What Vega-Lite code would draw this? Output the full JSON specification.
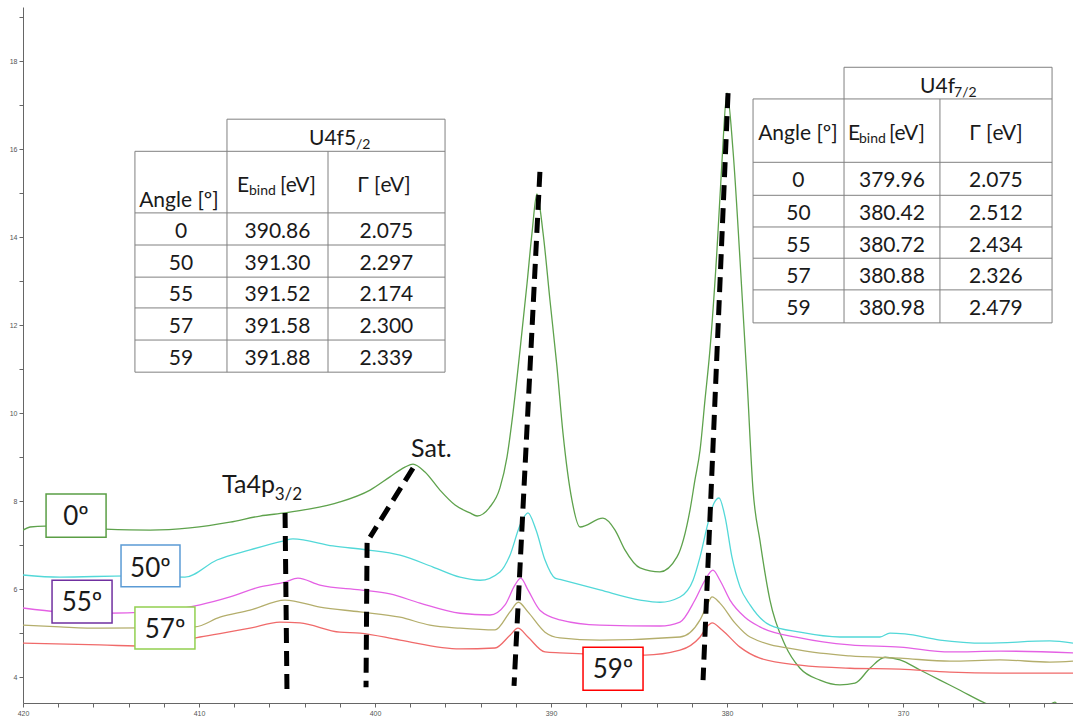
{
  "$schema": "https://vega.github.io/schema/vega-lite/v6.json",
  "width": 1050,
  "height": 696,
  "autosize": {"type": "none"},
  "padding": {"left": 23, "top": 7, "right": 0, "bottom": 16},
  "background": "white",
  "config": {
    "view": {"stroke": null},
    "axis": {"grid": false, "title": null, "labelFont": "Liberation Sans", "labelFontSize": 7, "labelColor": "#555", "domainColor": "#666", "tickColor": "#666", "tickSize": 4, "labelPadding": 2},
    "text": {"font": "Lato", "color": "#1a1a1a"}
  },
  "datasets": {
    "spec": [
      {"s":"0","e":420.00,"i":7.34},{"s":"0","e":419.60,"i":7.41},{"s":"0","e":418.75,"i":7.43},{"s":"0","e":415.34,"i":7.36},{"s":"0","e":412.78,"i":7.34},{"s":"0","e":410.51,"i":7.39},{"s":"0","e":408.24,"i":7.52},{"s":"0","e":406.53,"i":7.66},{"s":"0","e":405.11,"i":7.73},{"s":"0","e":403.69,"i":7.82},{"s":"0","e":401.99,"i":7.98},{"s":"0","e":400.28,"i":8.25},{"s":"0","e":399.15,"i":8.55},{"s":"0","e":398.30,"i":8.77},{"s":"0","e":397.84,"i":8.84},{"s":"0","e":397.16,"i":8.66},{"s":"0","e":396.31,"i":8.25},{"s":"0","e":395.45,"i":7.91},{"s":"0","e":394.60,"i":7.73},{"s":"0","e":394.20,"i":7.66},{"s":"0","e":393.50,"i":7.85},{"s":"0","e":392.90,"i":8.30},{"s":"0","e":392.50,"i":9.00},{"s":"0","e":392.16,"i":10.00},{"s":"0","e":391.76,"i":11.43},{"s":"0","e":391.36,"i":12.95},{"s":"0","e":391.08,"i":14.09},{"s":"0","e":390.80,"i":14.98},{"s":"0","e":390.45,"i":14.09},{"s":"0","e":390.06,"i":12.57},{"s":"0","e":389.66,"i":11.05},{"s":"0","e":389.32,"i":9.55},{"s":"0","e":388.81,"i":8.02},{"s":"0","e":388.35,"i":7.41},{"s":"0","e":387.05,"i":7.61},{"s":"0","e":386.36,"i":7.34},{"s":"0","e":385.80,"i":6.89},{"s":"0","e":384.94,"i":6.48},{"s":"0","e":383.81,"i":6.39},{"s":"0","e":382.84,"i":6.73},{"s":"0","e":382.10,"i":7.80},{"s":"0","e":381.82,"i":8.48},{"s":"0","e":381.53,"i":9.16},{"s":"0","e":381.25,"i":10.30},{"s":"0","e":380.97,"i":11.43},{"s":"0","e":380.57,"i":13.70},{"s":"0","e":380.28,"i":15.75},{"s":"0","e":380.00,"i":17.28},{"s":"0","e":379.66,"i":15.98},{"s":"0","e":379.26,"i":13.48},{"s":"0","e":378.86,"i":10.75},{"s":"0","e":378.52,"i":8.25},{"s":"0","e":378.13,"i":7.11},{"s":"0","e":377.56,"i":5.75},{"s":"0","e":376.70,"i":4.73},{"s":"0","e":375.85,"i":4.20},{"s":"0","e":374.72,"i":3.93},{"s":"0","e":373.58,"i":3.82},{"s":"0","e":372.73,"i":3.86},{"s":"0","e":371.88,"i":4.20},{"s":"0","e":371.02,"i":4.45},{"s":"0","e":370.17,"i":4.39},{"s":"0","e":369.03,"i":4.16},{"s":"0","e":367.90,"i":3.93},{"s":"0","e":366.76,"i":3.70},{"s":"0","e":365.34,"i":3.41},{"s":"0","e":363.92,"i":3.2},{"s":"0","e":362.22,"i":3.2},{"s":"0","e":361.36,"i":3.43},{"s":"0","e":360.97,"i":3.2},{"s":"0","e":360.34,"i":3.2},
      {"s":"50","e":420.00,"i":6.32},{"s":"50","e":417.90,"i":6.27},{"s":"50","e":414.00,"i":6.30},{"s":"50","e":410.80,"i":6.27},{"s":"50","e":408.98,"i":6.66},{"s":"50","e":407.10,"i":6.89},{"s":"50","e":405.23,"i":7.09},{"s":"50","e":404.66,"i":7.14},{"s":"50","e":402.39,"i":6.98},{"s":"50","e":400.45,"i":6.89},{"s":"50","e":398.58,"i":6.77},{"s":"50","e":396.70,"i":6.50},{"s":"50","e":395.17,"i":6.27},{"s":"50","e":394.03,"i":6.20},{"s":"50","e":392.90,"i":6.39},{"s":"50","e":392.33,"i":6.77},{"s":"50","e":391.76,"i":7.45},{"s":"50","e":391.31,"i":7.73},{"s":"50","e":390.85,"i":7.34},{"s":"50","e":390.34,"i":6.66},{"s":"50","e":389.77,"i":6.25},{"s":"50","e":389.49,"i":6.22},{"s":"50","e":387.22,"i":5.98},{"s":"50","e":384.94,"i":5.75},{"s":"50","e":383.81,"i":5.70},{"s":"50","e":382.67,"i":5.82},{"s":"50","e":381.93,"i":6.20},{"s":"50","e":381.53,"i":6.73},{"s":"50","e":381.08,"i":7.50},{"s":"50","e":380.74,"i":7.95},{"s":"50","e":380.45,"i":8.07},{"s":"50","e":380.11,"i":7.64},{"s":"50","e":379.72,"i":6.73},{"s":"50","e":379.26,"i":6.05},{"s":"50","e":378.69,"i":5.64},{"s":"50","e":377.56,"i":5.18},{"s":"50","e":375.85,"i":5.02},{"s":"50","e":373.58,"i":4.91},{"s":"50","e":371.31,"i":4.91},{"s":"50","e":370.74,"i":5.00},{"s":"50","e":369.89,"i":4.98},{"s":"50","e":367.90,"i":4.84},{"s":"50","e":365.34,"i":4.77},{"s":"50","e":361.65,"i":4.82},{"s":"50","e":360.34,"i":4.77},
      {"s":"55","e":420.00,"i":5.57},{"s":"55","e":417.90,"i":5.48},{"s":"55","e":415.34,"i":5.45},{"s":"55","e":412.78,"i":5.48},{"s":"55","e":409.94,"i":5.64},{"s":"55","e":408.24,"i":5.82},{"s":"55","e":406.53,"i":6.05},{"s":"55","e":405.11,"i":6.16},{"s":"55","e":404.38,"i":6.25},{"s":"55","e":403.13,"i":6.09},{"s":"55","e":400.85,"i":5.98},{"s":"55","e":399.15,"i":5.89},{"s":"55","e":397.44,"i":5.68},{"s":"55","e":395.17,"i":5.45},{"s":"55","e":393.47,"i":5.41},{"s":"55","e":392.61,"i":5.64},{"s":"55","e":392.05,"i":6.09},{"s":"55","e":391.72,"i":6.25},{"s":"55","e":391.31,"i":5.98},{"s":"55","e":390.63,"i":5.52},{"s":"55","e":389.49,"i":5.30},{"s":"55","e":387.22,"i":5.18},{"s":"55","e":383.81,"i":5.16},{"s":"55","e":382.67,"i":5.25},{"s":"55","e":381.82,"i":5.75},{"s":"55","e":381.25,"i":6.20},{"s":"55","e":380.80,"i":6.43},{"s":"55","e":380.40,"i":6.20},{"s":"55","e":379.83,"i":5.75},{"s":"55","e":378.98,"i":5.36},{"s":"55","e":378.13,"i":5.14},{"s":"55","e":375.85,"i":4.89},{"s":"55","e":373.01,"i":4.73},{"s":"55","e":370.17,"i":4.68},{"s":"55","e":367.33,"i":4.57},{"s":"55","e":364.49,"i":4.59},{"s":"55","e":360.34,"i":4.55},
      {"s":"57","e":420.00,"i":5.18},{"s":"57","e":417.90,"i":5.14},{"s":"57","e":415.63,"i":5.11},{"s":"57","e":410.23,"i":5.14},{"s":"57","e":408.81,"i":5.36},{"s":"57","e":407.10,"i":5.52},{"s":"57","e":405.11,"i":5.75},{"s":"57","e":403.13,"i":5.59},{"s":"57","e":400.85,"i":5.48},{"s":"57","e":398.58,"i":5.36},{"s":"57","e":396.88,"i":5.18},{"s":"57","e":395.17,"i":5.11},{"s":"57","e":393.18,"i":5.07},{"s":"57","e":392.33,"i":5.48},{"s":"57","e":391.85,"i":5.70},{"s":"57","e":391.31,"i":5.48},{"s":"57","e":390.34,"i":5.02},{"s":"57","e":389.49,"i":4.89},{"s":"57","e":387.22,"i":4.84},{"s":"57","e":382.67,"i":4.91},{"s":"57","e":381.53,"i":5.30},{"s":"57","e":381.08,"i":5.68},{"s":"57","e":380.85,"i":5.82},{"s":"57","e":380.40,"i":5.68},{"s":"57","e":379.55,"i":5.23},{"s":"57","e":378.69,"i":4.91},{"s":"57","e":375.85,"i":4.61},{"s":"57","e":373.01,"i":4.48},{"s":"57","e":370.17,"i":4.43},{"s":"57","e":367.33,"i":4.36},{"s":"57","e":364.49,"i":4.39},{"s":"57","e":361.65,"i":4.34},{"s":"57","e":360.34,"i":4.36},
      {"s":"59","e":420.00,"i":4.77},{"s":"59","e":415.63,"i":4.73},{"s":"59","e":412.78,"i":4.70},{"s":"59","e":409.94,"i":4.91},{"s":"59","e":407.10,"i":5.11},{"s":"59","e":405.40,"i":5.25},{"s":"59","e":404.26,"i":5.23},{"s":"59","e":401.99,"i":5.02},{"s":"59","e":400.85,"i":5.00},{"s":"59","e":398.58,"i":4.84},{"s":"59","e":395.17,"i":4.64},{"s":"59","e":393.18,"i":4.66},{"s":"59","e":392.33,"i":4.95},{"s":"59","e":391.88,"i":5.11},{"s":"59","e":391.31,"i":4.91},{"s":"59","e":390.34,"i":4.57},{"s":"59","e":389.49,"i":4.55},{"s":"59","e":384.66,"i":4.50},{"s":"59","e":382.67,"i":4.61},{"s":"59","e":381.53,"i":4.91},{"s":"59","e":381.05,"i":5.18},{"s":"59","e":380.85,"i":5.23},{"s":"59","e":380.28,"i":5.07},{"s":"59","e":379.26,"i":4.68},{"s":"59","e":378.13,"i":4.43},{"s":"59","e":375.85,"i":4.27},{"s":"59","e":373.01,"i":4.20},{"s":"59","e":370.17,"i":4.18},{"s":"59","e":367.33,"i":4.11},{"s":"59","e":364.49,"i":4.09},{"s":"59","e":360.34,"i":4.09}
    ],
    "dash": [
      {"g":"ta","e":405.11,"i":7.73},{"g":"ta","e":405.00,"i":3.64},
      {"g":"sat1","e":397.84,"i":8.75},{"g":"sat1","e":400.28,"i":7.18},
      {"g":"sat2","e":400.45,"i":7.05},{"g":"sat2","e":400.51,"i":3.77},
      {"g":"p390","e":390.63,"i":15.48},{"g":"p390","e":392.10,"i":3.80},
      {"g":"p380","e":379.94,"i":17.27},{"g":"p380","e":381.36,"i":3.93}
    ],
    "tlines": [
      {"e":408.41,"e2":396.02,"i":16.68,"i2":16.68},
      {"e":413.64,"e2":396.02,"i":15.95,"i2":15.95},
      {"e":413.64,"e2":396.02,"i":14.55,"i2":14.55},
      {"e":413.64,"e2":396.02,"i":13.82,"i2":13.82},
      {"e":413.64,"e2":396.02,"i":13.09,"i2":13.09},
      {"e":413.64,"e2":396.02,"i":12.39,"i2":12.39},
      {"e":413.64,"e2":396.02,"i":11.66,"i2":11.66},
      {"e":413.64,"e2":396.02,"i":10.93,"i2":10.93},
      {"e":413.64,"e2":413.64,"i":15.95,"i2":10.93},
      {"e":408.41,"e2":408.41,"i":16.68,"i2":10.93},
      {"e":402.67,"e2":402.67,"i":15.95,"i2":10.93},
      {"e":396.02,"e2":396.02,"i":16.68,"i2":10.93},
      {"e":373.35,"e2":361.53,"i":17.86,"i2":17.86},
      {"e":378.52,"e2":361.53,"i":17.14,"i2":17.14},
      {"e":378.52,"e2":361.53,"i":15.70,"i2":15.70},
      {"e":378.52,"e2":361.53,"i":14.95,"i2":14.95},
      {"e":378.52,"e2":361.53,"i":14.23,"i2":14.23},
      {"e":378.52,"e2":361.53,"i":13.52,"i2":13.52},
      {"e":378.52,"e2":361.53,"i":12.80,"i2":12.80},
      {"e":378.52,"e2":361.53,"i":12.05,"i2":12.05},
      {"e":378.52,"e2":378.52,"i":17.14,"i2":12.05},
      {"e":373.35,"e2":373.35,"i":17.86,"i2":12.05},
      {"e":367.90,"e2":367.90,"i":17.14,"i2":12.05},
      {"e":361.53,"e2":361.53,"i":17.86,"i2":12.05}
    ],
    "tx": [
      {"k":"c","t":"0","e":411.02,"i":13.98},{"k":"c","t":"390.86","e":405.54,"i":13.98},{"k":"c","t":"2.075","e":399.35,"i":13.98},
      {"k":"c","t":"50","e":411.02,"i":13.25},{"k":"c","t":"391.30","e":405.54,"i":13.25},{"k":"c","t":"2.297","e":399.35,"i":13.25},
      {"k":"c","t":"55","e":411.02,"i":12.55},{"k":"c","t":"391.52","e":405.54,"i":12.55},{"k":"c","t":"2.174","e":399.35,"i":12.55},
      {"k":"c","t":"57","e":411.02,"i":11.82},{"k":"c","t":"391.58","e":405.54,"i":11.82},{"k":"c","t":"2.300","e":399.35,"i":11.82},
      {"k":"c","t":"59","e":411.02,"i":11.09},{"k":"c","t":"391.88","e":405.54,"i":11.09},{"k":"c","t":"2.339","e":399.35,"i":11.09},
      {"k":"c","t":"0","e":375.94,"i":15.13},{"k":"c","t":"379.96","e":370.63,"i":15.13},{"k":"c","t":"2.075","e":364.72,"i":15.13},
      {"k":"c","t":"50","e":375.94,"i":14.39},{"k":"c","t":"380.42","e":370.63,"i":14.39},{"k":"c","t":"2.512","e":364.72,"i":14.39},
      {"k":"c","t":"55","e":375.94,"i":13.67},{"k":"c","t":"380.72","e":370.63,"i":13.67},{"k":"c","t":"2.434","e":364.72,"i":13.67},
      {"k":"c","t":"57","e":375.94,"i":12.95},{"k":"c","t":"380.88","e":370.63,"i":12.95},{"k":"c","t":"2.326","e":364.72,"i":12.95},
      {"k":"c","t":"59","e":375.94,"i":12.22},{"k":"c","t":"380.98","e":370.63,"i":12.22},{"k":"c","t":"2.479","e":364.72,"i":12.22},
      {"k":"c","t":"Angle [º]","e":411.14,"i":14.68},{"k":"c","t":"Γ [eV]","e":399.49,"i":15.02},
      {"k":"c","t":"Angle [º]","e":375.97,"i":16.20},{"k":"c","t":"Γ [eV]","e":364.72,"i":16.20},
      {"k":"l","t":"U4f5","e":403.75,"i":16.09},{"k":"l","t":"E","e":407.84,"i":15.02},{"k":"l","t":"[eV]","e":405.40,"i":15.02},
      {"k":"l","t":"U4f","e":369.03,"i":17.27},{"k":"l","t":"E","e":373.13,"i":16.20},{"k":"l","t":"[eV]","e":370.80,"i":16.20},
      {"k":"s","t":"/2","e":401.08,"i":16.00},{"k":"s","t":"bind","e":407.16,"i":14.95},
      {"k":"s","t":"7/2","e":367.10,"i":17.18},{"k":"s","t":"bind","e":372.50,"i":16.14},
      {"k":"a","t":"Ta4p","e":408.69,"i":8.18},{"k":"a","t":"Sat.","e":397.95,"i":9.00},
      {"k":"as","t":"3/2","e":405.70,"i":8.02},
      {"k":"b","t":"0º","e":416.99,"i":7.45},
      {"k":"b","t":"50º","e":412.76,"i":6.27},
      {"k":"b","t":"55º","e":416.65,"i":5.50},
      {"k":"b","t":"57º","e":411.93,"i":4.89},
      {"k":"b","t":"59º","e":386.48,"i":3.98}
    ],
    "boxes": [
      {"lab":"0º","e":418.69,"e2":415.28,"i":8.16,"i2":7.18},
      {"lab":"50º","e":414.43,"e2":411.08,"i":7.00,"i2":6.05},
      {"lab":"55º","e":418.35,"e2":414.94,"i":6.20,"i2":5.23},
      {"lab":"57º","e":413.64,"e2":410.23,"i":5.59,"i2":4.64},
      {"lab":"59º","e":388.18,"e2":384.77,"i":4.68,"i2":3.70}
    ]
  },
  "encoding": {
    "x": {"field": "e", "type": "quantitative", "scale": {"domain": [360.34, 420], "reverse": true, "nice": false, "zero": false},
      "axis": {"values": [362,364,366,368,370,372,374,376,378,380,382,384,386,388,390,392,394,396,398,400,402,404,406,408,410,412,414,416,418,420], "labelExpr": "datum.value % 10 == 0 ? datum.label : ''", "labelFlush": false, "labelOverlap": false}},
    "y": {"field": "i", "type": "quantitative", "scale": {"domain": [3.41, 19.23], "nice": false, "zero": false},
      "axis": {"values": [4,5,6,7,8,9,10,11,12,13,14,15,16,17,18,19], "labelExpr": "datum.value % 2 == 0 ? datum.label : ''", "labelOverlap": false}}
  },
  "layer": [
    {
      "data": {"name": "tlines"},
      "mark": {"type": "rule", "color": "#808080", "strokeWidth": 1},
      "encoding": {"x2": {"field": "e2"}, "y2": {"field": "i2"}}
    },
    {
      "data": {"name": "spec"},
      "mark": {"type": "line", "strokeWidth": 1.3, "clip": true, "interpolate": "monotone"},
      "encoding": {
        "color": {"field": "s", "type": "nominal", "legend": null, "scale": {"domain": ["0","50","55","57","59"], "range": ["#5ea24c","#52d8d8","#e461e4","#b4ae6c","#f06a6a"]}}
      }
    },
    {
      "data": {"name": "dash"},
      "mark": {"type": "line", "color": "#000", "strokeWidth": 5, "strokeDash": [15, 8], "strokeCap": "butt"},
      "encoding": {
        "detail": {"field": "g"},
        "order": {"field": "i", "sort": "descending"}
      }
    },
    {
      "data": {"name": "boxes"},
      "mark": {"type": "rect", "fill": "white", "strokeWidth": 1.5},
      "encoding": {
        "x2": {"field": "e2"},
        "y2": {"field": "i2"},
        "stroke": {"field": "lab", "type": "nominal", "legend": null, "scale": {"domain": ["0º","50º","55º","57º","59º"], "range": ["#5a9e45","#5b9bd5","#7030a0","#92d050","#ff0000"]}}
      }
    },
    {
      "data": {"name": "tx"},
      "transform": [{"filter": "datum.k == 'b'"}],
      "mark": {"type": "text", "fontSize": 26, "align": "center", "baseline": "alphabetic"},
      "encoding": {"text": {"field": "t"}}
    },
    {
      "data": {"name": "tx"},
      "transform": [{"filter": "datum.k == 'c'"}],
      "mark": {"type": "text", "fontSize": 21, "align": "center", "baseline": "alphabetic"},
      "encoding": {"text": {"field": "t"}}
    },
    {
      "data": {"name": "tx"},
      "transform": [{"filter": "datum.k == 'l'"}],
      "mark": {"type": "text", "fontSize": 21, "align": "left", "baseline": "alphabetic"},
      "encoding": {"text": {"field": "t"}}
    },
    {
      "data": {"name": "tx"},
      "transform": [{"filter": "datum.k == 's'"}],
      "mark": {"type": "text", "fontSize": 14, "align": "left", "baseline": "alphabetic"},
      "encoding": {"text": {"field": "t"}}
    },
    {
      "data": {"name": "tx"},
      "transform": [{"filter": "datum.k == 'a'"}],
      "mark": {"type": "text", "fontSize": 25, "align": "left", "baseline": "alphabetic"},
      "encoding": {"text": {"field": "t"}}
    },
    {
      "data": {"name": "tx"},
      "transform": [{"filter": "datum.k == 'as'"}],
      "mark": {"type": "text", "fontSize": 17, "align": "left", "baseline": "alphabetic"},
      "encoding": {"text": {"field": "t"}}
    }
  ]
}
